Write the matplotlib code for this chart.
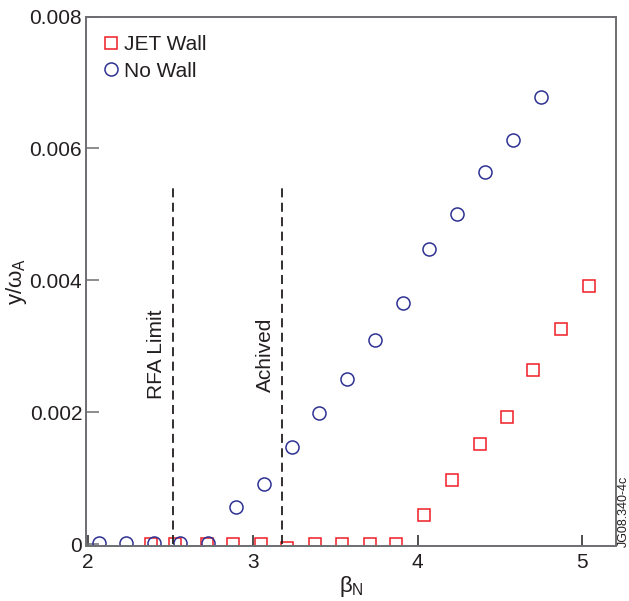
import matplotlib
matplotlib.use("Agg")
import matplotlib.pyplot as plt

plt.rcParams['font.family'] = ['Liberation Sans', 'DejaVu Sans']
plt.rcParams['mathtext.fontset'] = 'custom'
plt.rcParams['mathtext.rm'] = 'Liberation Sans'
plt.rcParams['mathtext.it'] = 'Liberation Sans'

# Data
no_wall_beta = [2.07, 2.23, 2.40, 2.56, 2.73, 2.90, 3.07, 3.24, 3.40, 3.57,
                3.74, 3.91, 4.07, 4.24, 4.41, 4.58, 4.75]
no_wall_gamma = [0.00002, 0.00002, 0.00002, 0.00002, 0.00002, 0.00056, 0.00092,
                 0.00148, 0.00199, 0.00251, 0.00310, 0.00366, 0.00447, 0.00500,
                 0.00564, 0.00613, 0.00678]
jet_wall_beta = [2.38, 2.53, 2.72, 2.88, 3.05, 3.21, 3.38, 3.54, 3.71, 3.87,
                 4.04, 4.21, 4.38, 4.54, 4.70, 4.87, 5.04]
jet_wall_gamma = [0.0, 0.0, 0.00001, 0.00001, 0.00001, -0.00005, 0.0, 0.0, 0.0, 0.0,
                  0.00044, 0.00097, 0.00152, 0.00193, 0.00264, 0.00327, 0.00391]
limit_x = [2.513, 3.175]
limit_labels = ['RFA Limit', 'Achived']
limit_top = 0.00548

red = '#ee1c25'
blue = '#2e3192'
txt = '#231f20'
spine = '#6d6e71'

fig = plt.figure(figsize=(6.29, 6.01), dpi=100)
ax = fig.add_axes([0.1372, 0.092, 0.8417, 0.8805])

ax.plot(jet_wall_beta, jet_wall_gamma, linestyle='none', marker='s', markersize=8.6,
        markerfacecolor='none', markeredgecolor=red, markeredgewidth=1.1, label='JET Wall')
ax.plot(no_wall_beta, no_wall_gamma, linestyle='none', marker='o', markersize=9.4,
        markerfacecolor='none', markeredgecolor=blue, markeredgewidth=1.1, label='No Wall')

for xv, lab in zip(limit_x, limit_labels):
    ax.plot([xv, xv], [0, limit_top], color='#231f20', linestyle=(0, (5, 3)), linewidth=1.3)
    ax.text(xv - 0.10, 0.00288, lab, rotation=90, ha='center', va='center',
            fontsize=15, color=txt)

ax.set_xlim(1.99, 5.202)
ax.set_ylim(-0.00002, 0.0080)
ax.set_xticks([2, 3, 4, 5])
ax.set_xticklabels(['2', '3', '4', '5'])
ax.set_yticks([0, 0.002, 0.004, 0.006, 0.008])
ax.set_yticklabels(['0', '0.002', '0.004', '0.006', '0.008'])
ax.tick_params(axis='x', direction='in', length=8, width=1.1, color=txt,
               labelsize=15, labelcolor=txt, pad=5)
ax.tick_params(axis='y', direction='in', length=9, width=1.1, color=spine,
               labelsize=15, labelcolor=txt, pad=3)
for s in ax.spines.values():
    s.set_color(spine)
    s.set_linewidth(1.4)

ax.set_xlabel(r'$\beta_\mathrm{N}$', fontsize=16, color=txt, labelpad=2)
ax.set_ylabel(r'y/$\omega_\mathrm{A}$', fontsize=16, color=txt)
ax.yaxis.set_label_coords(-0.108, 0.5)

leg = ax.legend(loc='upper left', bbox_to_anchor=(0.0, 1.0), frameon=False,
                fontsize=15, handlelength=0.6, handletextpad=0.3,
                labelspacing=0.35, borderaxespad=0.5, labelcolor=txt)

fig.text(0.992, 0.09, 'JG08.340-4c', rotation=90, ha='center', va='bottom',
         fontsize=9, color=txt)

fig.savefig('out.png', dpi=100)
